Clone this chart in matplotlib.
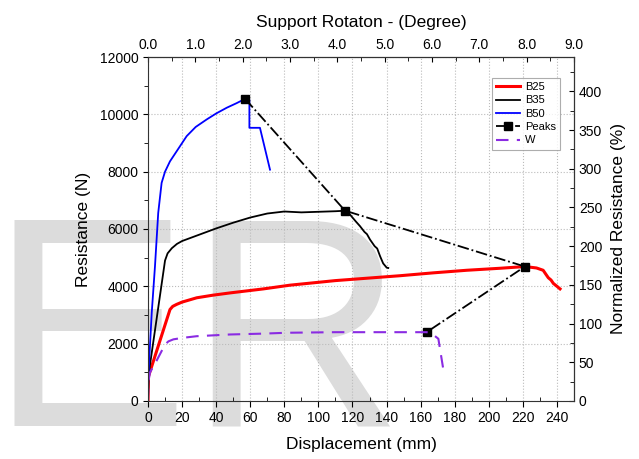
import numpy as np
import matplotlib
matplotlib.use("Agg")
import matplotlib.pyplot as plt
from matplotlib.ticker import MultipleLocator

plt.rcParams['font.family'] = ['Liberation Sans', 'DejaVu Sans']

# displacement (mm) / resistance (N)
b25_x = [0, 0.3, 12.9, 14.5, 16.8, 20, 28.6, 38, 48.1, 67.7, 83.3, 110, 147.9, 167.4, 187, 206.6, 221.2, 228, 231.9, 233.5, 234.9, 236.5, 237.9, 240, 241.8]
b25_y = [0, 860, 3190, 3300, 3370, 3450, 3600, 3690, 3770, 3910, 4040, 4200, 4370, 4470, 4560, 4630, 4690, 4640, 4560, 4420, 4300, 4220, 4100, 4000, 3910]

b35_x = [0, 0.3, 10.0, 11.5, 14, 17, 20, 30, 40, 50, 60, 70, 80, 90, 100, 110, 116.6, 120, 122, 124.4, 127, 128.5, 130.3, 133, 134.5, 136.2, 138, 140.1, 141]
b35_y = [0, 900, 4900, 5150, 5330, 5480, 5580, 5800, 6020, 6220, 6400, 6540, 6610, 6580, 6600, 6620, 6640, 6400, 6260, 6100, 5900, 5820, 5630, 5400, 5320, 5050, 4800, 4650, 4640]

b50_x = [0, 0.2, 2.2, 4.1, 6.0, 8.0, 10.0, 12.9, 16.8, 22.7, 28, 34.4, 40, 46.2, 52, 57.0, 59.5, 59.5, 65.7, 71.6]
b50_y = [0, 865, 3080, 4700, 6560, 7610, 8000, 8360, 8710, 9240, 9560, 9820, 10030, 10230, 10390, 10540, 10500, 9530, 9530, 8070]

w_x = [0, 0.3, 1.2, 5.0, 10.0, 12, 14.9, 20, 28.6, 48.1, 67.7, 81.4, 110, 147.9, 163.5, 167, 170.4, 173.3]
w_y = [0, 700, 1000, 1400, 1970, 2080, 2150, 2200, 2260, 2320, 2350, 2380, 2400, 2400, 2400, 2330, 2170, 1100]

peaks_x = [57.0, 115.6, 221.2, 163.5]
peaks_y = [10540, 6640, 4690, 2400]

fig = plt.figure(figsize=(6.39, 4.59), dpi=100)
fig.text(-0.016, 0.072, "ER", fontsize=215, color='#dcdcdc', ha='left', va='baseline', zorder=0)
ax = fig.add_axes([0.2316, 0.1264, 0.6667, 0.7494], zorder=1)
ax.set_facecolor('none')

ax.plot(b25_x, b25_y, color='red', lw=2.2, label='B25')
ax.plot(b35_x, b35_y, color='black', lw=1.3, label='B35')
ax.plot(b50_x, b50_y, color='blue', lw=1.3, label='B50')
ax.plot(peaks_x, peaks_y, color='black', lw=1.3, ls='-.', marker='s', ms=6, label='Peaks')
ax.plot(w_x, w_y, color='#8a2be2', lw=1.5, ls=(0, (6, 4)), label='W')

ax.set_xlim(0, 250)
ax.set_ylim(0, 12000)
ax.xaxis.set_major_locator(MultipleLocator(20))
ax.xaxis.set_minor_locator(MultipleLocator(10))
ax.yaxis.set_major_locator(MultipleLocator(2000))
ax.yaxis.set_minor_locator(MultipleLocator(1000))
ax.grid(True, which='major', ls=':', color='#bbbbbb', lw=0.8)
ax.tick_params(axis='x', which='major', direction='out', length=4, labelsize=10)
ax.tick_params(axis='x', which='minor', direction='in', length=3)
ax.tick_params(axis='y', which='both', direction='out', labelsize=10)
ax.tick_params(axis='y', which='minor', length=3)
ax.set_xlabel('Displacement (mm)', fontsize=12.5, labelpad=8)
ax.set_ylabel('Resistance (N)', fontsize=12.5, labelpad=6)

# top: support rotation, 250 mm = 9 degrees
top = ax.secondary_xaxis('top', functions=(lambda d: d * 9 / 250, lambda r: r * 250 / 9))
top.xaxis.set_major_locator(MultipleLocator(1.0))
top.xaxis.set_minor_locator(MultipleLocator(0.5))
top.xaxis.set_major_formatter(lambda v, p: f"{v:.1f}")
top.tick_params(which='both', direction='in', labelsize=10)
top.tick_params(which='minor', length=3)
top.set_xlabel('Support Rotaton - (Degree)', fontsize=12.5, labelpad=8)

# right: normalized resistance, 2700 N = 100 %
right = ax.secondary_yaxis('right', functions=(lambda n: n / 27.0, lambda p: p * 27.0))
right.yaxis.set_major_locator(MultipleLocator(50))
right.yaxis.set_minor_locator(MultipleLocator(25))
right.tick_params(which='both', direction='in', labelsize=10)
right.tick_params(which='minor', length=3)
right.set_ylabel('Normalized Resistance (%)', fontsize=12.5, labelpad=6)

for s in ax.spines.values():
    s.set_color('#333333')

leg = ax.legend(loc='upper right', bbox_to_anchor=(0.968, 0.94), fontsize=8, frameon=True,
                fancybox=False, edgecolor='#999999', handlelength=2.2, labelspacing=0.3,
                borderpad=0.4, handletextpad=0.4, borderaxespad=0)
leg.get_frame().set_linewidth(0.8)

fig.savefig('out.png', dpi=100)
